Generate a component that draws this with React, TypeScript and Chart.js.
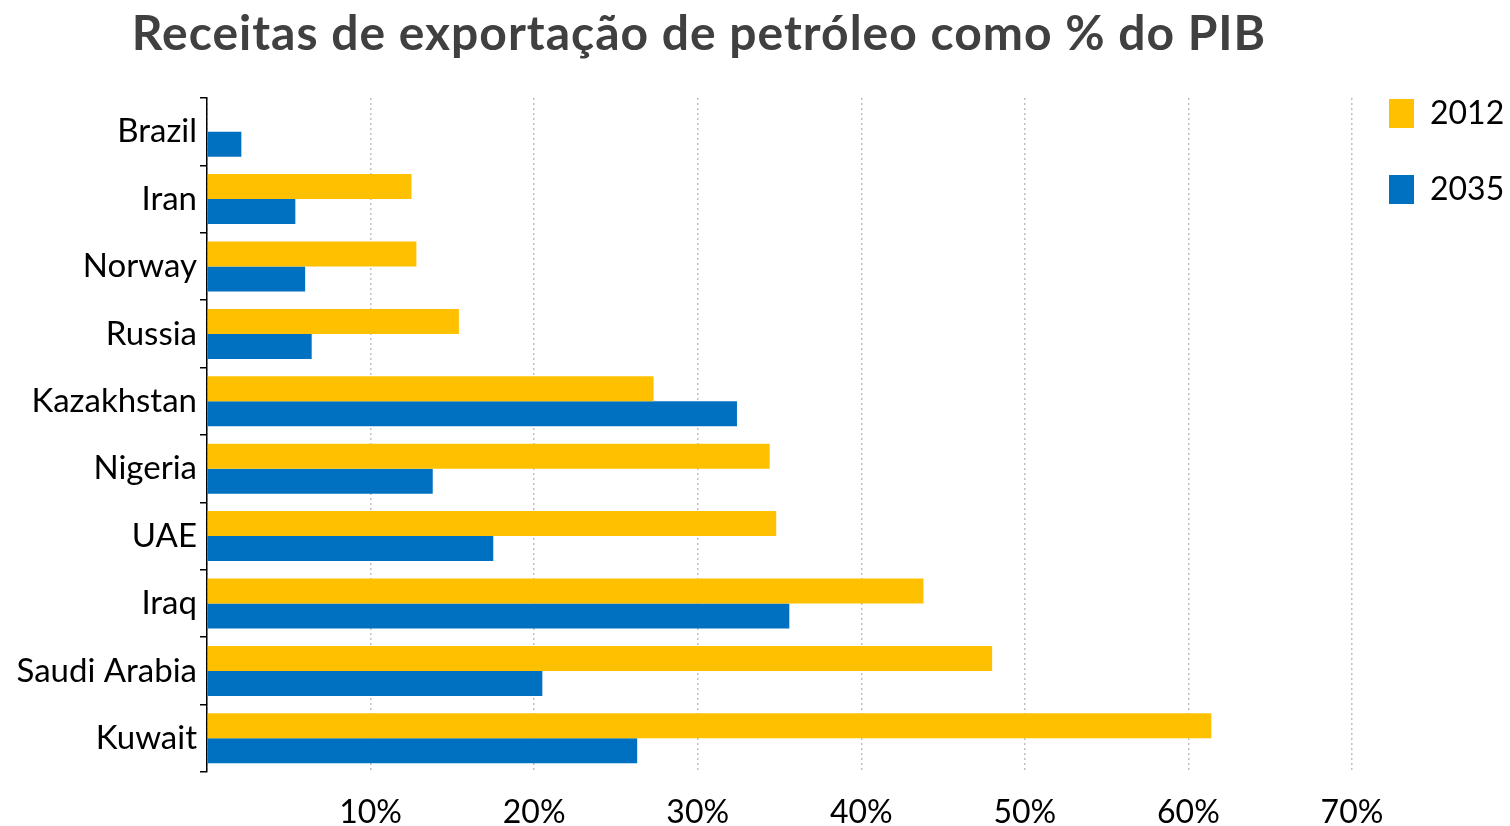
import React, { useEffect, useRef } from 'react';
import { Chart, registerables } from 'chart.js';

Chart.register(...registerables);

const titleText = 'Receitas de exportação de petróleo como % do PIB';
const categories = ['Brazil', 'Iran', 'Norway', 'Russia', 'Kazakhstan', 'Nigeria', 'UAE', 'Iraq', 'Saudi Arabia', 'Kuwait'];
const values2012: (number | null)[] = [null, 12.5, 12.8, 15.4, 27.3, 34.4, 34.8, 43.8, 48.0, 61.4];
const values2035: number[] = [2.1, 5.4, 6.0, 6.4, 32.4, 13.8, 17.5, 35.6, 20.5, 26.3];
const seriesLabels = ['2012', '2035'];
const seriesColors = ['#FFC000', '#0070C0'];
const xMin = 0;
const xMax = 70;
const xStep = 10;

const FONT = 'Lato, "Open Sans", sans-serif';

const titlePlugin = {
  id: 'customTitle',
  afterDraw(chart: any) {
    const ctx = chart.ctx;
    ctx.save();
    ctx.font = `bold 48px ${FONT}`;
    ctx.fillStyle = '#404040';
    ctx.textAlign = 'center';
    ctx.textBaseline = 'alphabetic';
    try { (ctx as any).letterSpacing = '1px'; } catch (e) {}
    ctx.fillText(titleText, 699, 50);
    ctx.restore();
  },
};

const LEGEND_PAD = 44;

const legendShiftPlugin = {
  id: 'legendShift',
  afterLayout(chart: any) {
    const lg = chart.legend;
    if (!lg) return;
    const w = lg.width;
    lg.left = 1389 - LEGEND_PAD;
    lg.right = lg.left + w;
    const h = lg.height;
    lg.top = 97.5 - LEGEND_PAD;
    lg.bottom = lg.top + h;
  },
};

export default function App() {
  const canvasRef = useRef<HTMLCanvasElement | null>(null);

  useEffect(() => {
    let chart: Chart | null = null;
    let cancelled = false;
    const make = () => {
      if (cancelled || !canvasRef.current) return;
      chart = new Chart(canvasRef.current, {
        type: 'bar',
        data: {
          labels: categories,
          datasets: [
            { label: seriesLabels[0], data: values2012, backgroundColor: seriesColors[0], borderWidth: 0 },
            { label: seriesLabels[1], data: values2035, backgroundColor: seriesColors[1], borderWidth: 0 },
          ],
        },
        options: {
          indexAxis: 'y',
          animation: false,
          responsive: true,
          maintainAspectRatio: false,
          layout: { padding: { top: 98, left: 0, right: 0, bottom: 0 } },
          datasets: {
            bar: { categoryPercentage: 0.742, barPercentage: 1 },
          },
          plugins: {
            title: { display: false },
            tooltip: { enabled: false },
            legend: {
              display: true,
              position: 'right',
              align: 'start',
              maxWidth: 158,
              labels: {
                boxWidth: 25,
                boxHeight: 29,
                padding: LEGEND_PAD,
                color: '#000',
                font: { family: FONT, size: 32 },
              },
            },
          },
          scales: {
            x: {
              type: 'linear',
              min: xMin,
              max: xMax,
              afterFit: (s: any) => { s.height = 54; },
              ticks: {
                stepSize: xStep,
                padding: 21,
                color: '#000',
                font: { family: FONT, size: 32 },
                callback: (v: any) => (Number(v) === 0 ? '' : `${v}%`),
              },
              grid: {
                color: '#BFBFBF',
                lineWidth: 1.5,
                drawTicks: false,
              },
              border: { display: false, dash: [2, 3] },
            },
            y: {
              type: 'category',
              afterFit: (s: any) => { s.width = 207; },
              ticks: {
                padding: 3,
                color: '#000',
                font: { family: FONT, size: 33 },
              },
              grid: {
                drawOnChartArea: false,
                drawTicks: true,
                tickLength: 7,
                color: '#000',
                lineWidth: 1.5,
                offset: true,
              },
              border: { display: true, color: '#000', width: 1.5 },
            },
          },
        },
        plugins: [titlePlugin, legendShiftPlugin],
      } as any);
    };
    const fontsApi = (document as any).fonts;
    if (fontsApi && fontsApi.load) {
      Promise.all([
        fontsApi.load(`30px Lato`),
        fontsApi.load(`bold 48px Lato`),
      ]).then(make, make);
    } else {
      make();
    }
    return () => {
      cancelled = true;
      if (chart) chart.destroy();
    };
  }, []);

  return (
    <div style={{ position: 'fixed', left: 0, top: 0, width: 1510, height: 826, background: '#fff' }}>
      <canvas ref={canvasRef} />
    </div>
  );
}
